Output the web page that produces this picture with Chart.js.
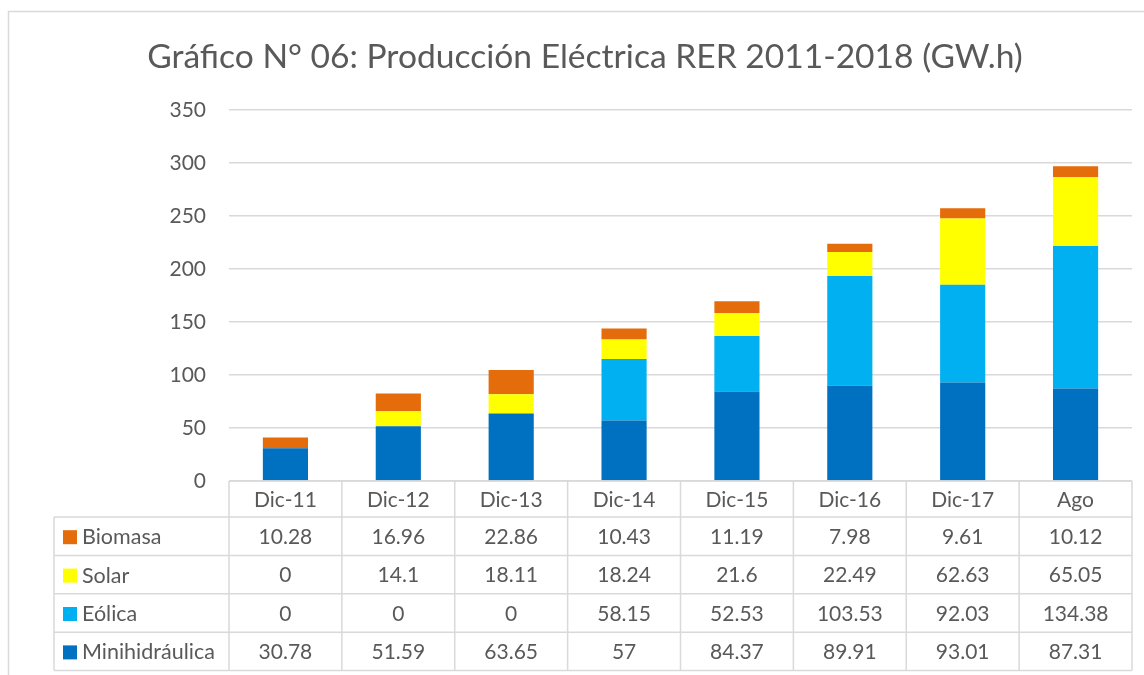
<!DOCTYPE html>
<html>
<head>
<meta charset="utf-8">
<script src="https://cdn.jsdelivr.net/npm/chart.js@4"></script>
<style>
  body { margin: 0; background: #fff; }
  #wrap { position: relative; width: 1144px; height: 675px; }
</style>
</head>
<body>
<div id="wrap"><canvas id="chart" width="1144" height="675"></canvas></div>
<script>
const labels = ["Dic-11", "Dic-12", "Dic-13", "Dic-14", "Dic-15", "Dic-16", "Dic-17", "Ago"];
const minihidraulica = [30.78, 51.59, 63.65, 57, 84.37, 89.91, 93.01, 87.31];
const eolica = [0, 0, 0, 58.15, 52.53, 103.53, 92.03, 134.38];
const solar = [0, 14.1, 18.11, 18.24, 21.6, 22.49, 62.63, 65.05];
const biomasa = [10.28, 16.96, 22.86, 10.43, 11.19, 7.98, 9.61, 10.12];
const yTicks = [0, 50, 100, 150, 200, 250, 300, 350];

const FONT = "Lato";
const TXT = "#595959";
const GRID = "#d9d9d9";

// data table under the plot, rows in the same order as the Excel legend
const tablePlugin = {
  id: "dataTable",
  beforeDraw(chart) {
    const c = chart.ctx;
    c.save();
    c.strokeStyle = GRID;
    c.lineWidth = 1.5;
    c.strokeRect(8.5, 11.5, 1200, 700);
    c.fillStyle = TXT;
    c.font = "33.6px " + FONT;
    c.textAlign = "center";
    c.textBaseline = "middle";
    c.fillText("Gráfico N° 06: Producción Eléctrica RER 2011-2018 (GW.h)", 585, 57);
    c.restore();
  },
  afterDraw(chart) {
    const c = chart.ctx;
    const xs = chart.scales.x;
    const area = chart.chartArea;
    const n = labels.length;
    const colW = (area.right - area.left) / n;
    const headTop = area.bottom;
    const headH = 36;
    const rowH = 38.4;
    const legLeft = 54;
    const rows = [...chart.data.datasets].reverse();

    c.save();
    c.strokeStyle = GRID;
    c.lineWidth = 1.5;
    // grid lines of the table
    c.beginPath();
    c.moveTo(area.left, headTop);
    c.lineTo(area.right, headTop);
    for (let r = 0; r <= rows.length; r++) {
      const y = headTop + headH + r * rowH;
      c.moveTo(legLeft, y);
      c.lineTo(area.right, y);
    }
    const bottom = headTop + headH + rows.length * rowH;
    for (let i = 0; i <= n; i++) {
      const x = area.left + i * colW;
      c.moveTo(x, headTop);
      c.lineTo(x, bottom);
    }
    c.moveTo(legLeft, headTop + headH);
    c.lineTo(legLeft, bottom);
    c.stroke();

    c.fillStyle = TXT;
    c.font = "21px " + FONT;
    c.textBaseline = "middle";
    c.textAlign = "center";
    labels.forEach((l, i) => {
      c.fillText(l, xs.getPixelForValue(i), headTop + headH / 2 + 1);
    });
    rows.forEach((ds, r) => {
      const cy = headTop + headH + r * rowH + rowH / 2 + 1;
      c.fillStyle = ds.backgroundColor;
      c.fillRect(63, cy - 7, 14, 14);
      c.fillStyle = TXT;
      c.textAlign = "left";
      c.font = "21.5px " + FONT;
      c.fillText(ds.label, 82, cy);
      c.font = "21px " + FONT;
      c.textAlign = "center";
      ds.data.forEach((v, i) => {
        c.fillText(String(v), xs.getPixelForValue(i), cy);
      });
    });
    c.restore();
  }
};

new Chart(document.getElementById("chart"), {
  type: "bar",
  data: {
    labels: labels,
    datasets: [
      { label: "Minihidráulica", data: minihidraulica, backgroundColor: "#0070c0" },
      { label: "Eólica", data: eolica, backgroundColor: "#00b0f0" },
      { label: "Solar", data: solar, backgroundColor: "#ffff00" },
      { label: "Biomasa", data: biomasa, backgroundColor: "#e46c0a" }
    ]
  },
  options: {
    responsive: false,
    animation: false,
    layout: { padding: { left: 0, right: 12, top: 110, bottom: 194 } },
    plugins: { legend: { display: false }, title: { display: false }, tooltip: { enabled: false } },
    datasets: { bar: { barPercentage: 0.4, categoryPercentage: 1 } },
    scales: {
      x: { stacked: true, display: false },
      y: {
        stacked: true,
        min: 0,
        max: yTicks[yTicks.length - 1],
        afterBuildTicks: (s) => { s.ticks = yTicks.map((v) => ({ value: v })); },
        afterFit: (s) => { s.width = 229; },
        border: { display: false },
        grid: { color: GRID, lineWidth: 1.5, drawTicks: false },
        ticks: { color: TXT, font: { family: FONT, size: 21 }, padding: 23 }
      }
    }
  },
  plugins: [tablePlugin]
});
</script>
</body>
</html>
